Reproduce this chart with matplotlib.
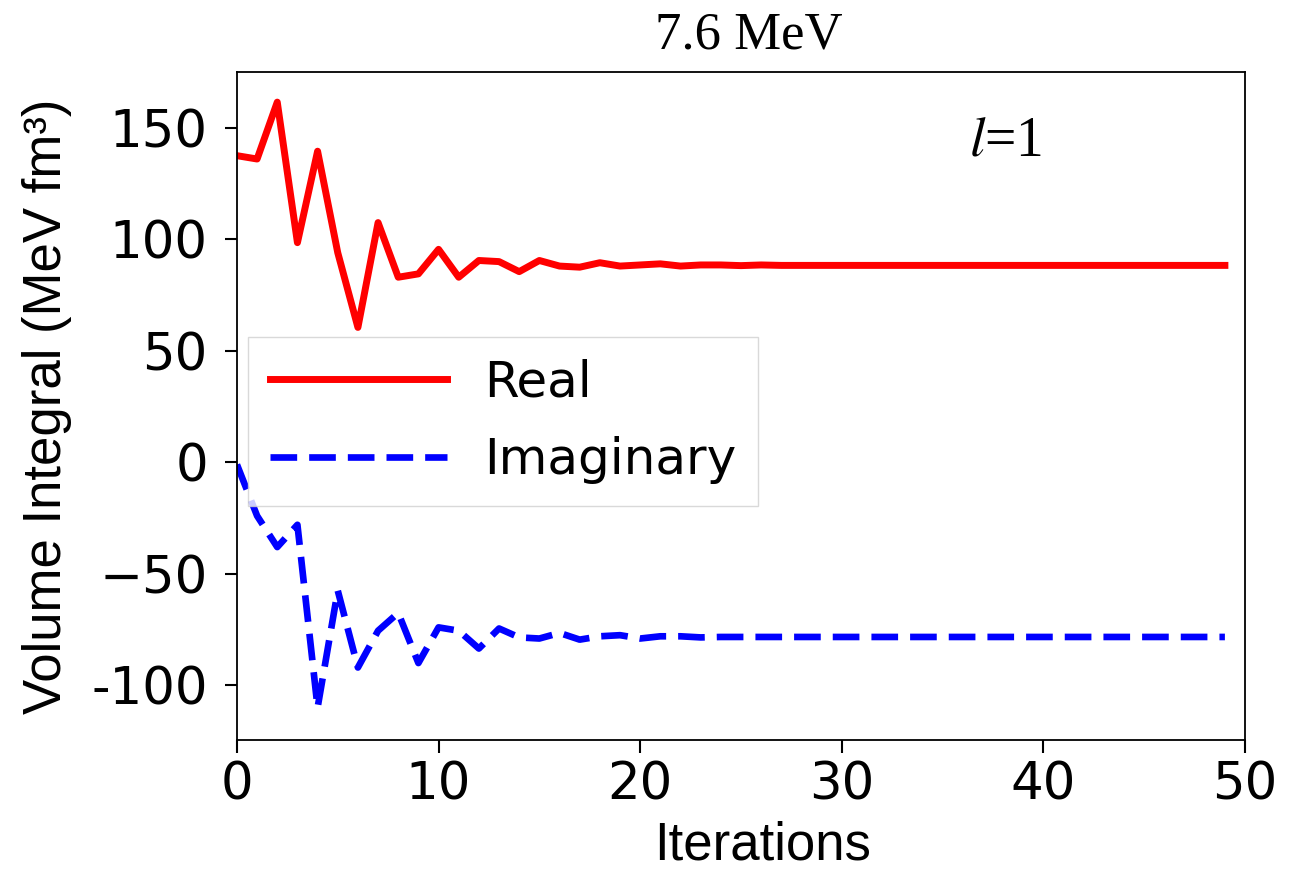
import matplotlib
matplotlib.use("Agg")
import matplotlib.pyplot as plt
import numpy as np

# iterations 0..49
iters = np.arange(50)
real_head = [137.5, 136, 161.5, 98.5, 139.5, 94, 60.5, 107.5, 83, 84.5,
             95.5, 83, 90.5, 90, 85.5, 90.5, 88, 87.5, 89.5, 88,
             88.5, 89, 88, 88.5, 88.5, 88.2, 88.5]
imag_head = [-1, -24, -38, -28, -110, -57.5, -92, -75.5, -67.5, -90,
             -74, -75.5, -83.5, -74.5, -78.5, -79, -76.5, -79.5, -78, -77.5,
             -79, -78, -78, -78.5, -78.3]
real_tail = 88.3
imag_tail = -78.3
real = real_head + [real_tail] * (50 - len(real_head))
imag = imag_head + [imag_tail] * (50 - len(imag_head))

yticks = [150, 100, 50, 0, -50, -100]
ytick_labels = ["150", "100", "50", "0", "\u221250", "-100"]
xticks = [0, 10, 20, 30, 40, 50]

fig = plt.figure(figsize=(13.04, 8.71), dpi=100)
ax = fig.add_axes([0.1817, 0.1504, 0.7731, 0.7669])

ax.plot(iters, real, "-", color="red", lw=5.0, label="Real")
ax.plot(iters, imag, color="blue", lw=4.8, linestyle=(0, (4.0, 1.8)), label="Imaginary")

ax.set_xlim(0, 50)
ax.set_ylim(-124.5, 175)
ax.set_xticks(xticks)
ax.set_yticks(yticks)
ax.set_yticklabels(ytick_labels)
ax.tick_params(labelsize=37, length=9, width=1.5)
ax.tick_params(axis="y", pad=12)
ax.tick_params(axis="x", pad=6)
for s in ax.spines.values():
    s.set_linewidth(1.3)

ax.set_xlabel("Iterations", fontsize=38, family="Liberation Sans", labelpad=7)
ax.xaxis.label.set_x(0.521)
ax.set_ylabel("Volume Integral (MeV fm\u00b3)", fontsize=38, family="Liberation Sans")
ax.yaxis.set_label_coords(-0.164, 0.499)
ax.set_title("7.6 MeV", fontsize=38, family="Liberation Serif", pad=17, x=0.508)
ax.text(36.3, 144, "$\\mathit{l}$=1", fontsize=40, family="Liberation Serif",
        ha="left", va="center", math_fontfamily="stix")

leg = ax.legend(loc="upper left", bbox_to_anchor=(0.011, 0.603), fontsize=36,
                handlelength=3.55, handletextpad=0.75, borderaxespad=0.0,
                borderpad=0.43, labelspacing=0.59,
                frameon=True, fancybox=False)
leg.get_frame().set_edgecolor("#d0d0d0")

fig.savefig("out.png", dpi=100)
